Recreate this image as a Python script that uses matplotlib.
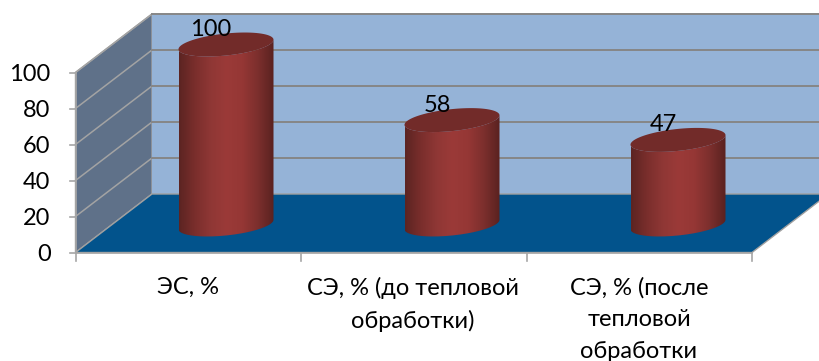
import numpy as np
import matplotlib
matplotlib.use("Agg")
import matplotlib.pyplot as plt
from matplotlib.colors import LinearSegmentedColormap
from matplotlib.patches import Polygon, PathPatch
from matplotlib.path import Path

plt.rcParams["font.family"] = ["Lato", "DejaVu Sans"]

categories = ["ЭС, %", "СЭ, % (до тепловой\nобработки)",
              "СЭ, % (после\nтепловой\nобработки"]
values = [100, 58, 47]
y_ticks = [0, 20, 40, 60, 80, 100]

# projection of the 3D box, in pixels
X0, Y0 = 75.5, 252.5     # front-left corner of the floor
DX, DY = 76.5, -58.5     # depth offset front -> back
PX_PER_UNIT = 1.8
X1 = 752
CENTERS = [226, 452, 678]
R_X, R_Y, SKEW = 47.5, 11.0, 0.1
BASE_Y = 224.5
FONT = 17


def vy(v):
    return Y0 - PX_PER_UNIT * v


def ellipse(cx, cy, t):
    x = cx + R_X * np.cos(t)
    return x, cy - SKEW * (x - cx) + R_Y * np.sin(t)


fig = plt.figure(figsize=(8.19, 3.61), dpi=100)
ax = fig.add_axes([0, 0, 1, 1])
ax.set_xlim(0, 819)
ax.set_ylim(361, 0)
ax.axis("off")

top = vy(100)
# walls and floor
ax.add_patch(Polygon([(X0, top), (X0 + DX, top + DY), (X0 + DX, Y0 + DY), (X0, Y0)],
                     fc="#5f7189", ec="#a0a0a0", lw=1))
ax.add_patch(Polygon([(X0 + DX, top + DY), (830, top + DY), (830, Y0 + DY), (X0 + DX, Y0 + DY)],
                     fc="#95b3d7", ec="none"))
ax.add_patch(Polygon([(X0, Y0), (X0 + DX, Y0 + DY), (X1 + DX, Y0 + DY), (X1, Y0)],
                     fc="#02538c", ec="#a0a0a0", lw=1))

# gridlines, ticks and value axis labels
for v in y_ticks:
    y = vy(v)
    if v > 0:
        ax.plot([X0, X0 + DX], [y, y + DY], color="#a3a3a3", lw=1.1)
        ax.plot([X0 + DX, 830], [y + DY, y + DY], color="#868686", lw=1.4)
    ax.plot([X0 - 6, X0], [y, y], color="#a6a6a6", lw=1.2)
    ax.text(X0 - 25, y + 2, str(v), ha="right", va="center", fontsize=FONT, color="black")
ax.plot([X0, X0], [vy(100), Y0], color="#a6a6a6", lw=1.2)
ax.plot([X0, X1], [Y0 + 0.5, Y0 + 0.5], color="#a6a6a6", lw=1.2)
for x in np.linspace(X0, X1, 4):
    ax.plot([x, x], [Y0, Y0 + 8], color="#a6a6a6", lw=1.2)

# cylinders: shaded side clipped to the outline, flat darker cap
shade = LinearSegmentedColormap.from_list(
    "side", ["#5c2422", "#7a2e2c", "#8f3735", "#9b3a38", "#953735", "#7c2f2d", "#5a2220"])
t_low = np.linspace(0, np.pi, 80)
t_all = np.linspace(0, 2 * np.pi, 160)
for cx, v in zip(CENTERS, values):
    cy = BASE_Y - PX_PER_UNIT * v
    bx, by = ellipse(cx, BASE_Y, t_low)
    tx, ty = ellipse(cx, cy, t_low[::-1])
    outline = Path(np.column_stack([np.r_[bx, tx], np.r_[by, ty]]))
    im = ax.imshow(np.linspace(0, 1, 200)[None, :], cmap=shade, aspect="auto",
                   extent=(cx - R_X, cx + R_X, BASE_Y + 20, cy - 20), zorder=3)
    im.set_clip_path(PathPatch(outline, transform=ax.transData))
    cap_x, cap_y = ellipse(cx, cy, t_all)
    ax.fill(cap_x, cap_y, color="#722b29", lw=0, zorder=4)
    ax.text(cx - 15, cy - 15, str(v), ha="center", va="center",
            fontsize=FONT, color="black", zorder=5)

ax.set_xlim(0, 819)
ax.set_ylim(361, 0)

# category labels
for cx, label in zip([188, 413, 639], categories):
    ax.text(cx, 277, label, ha="center", va="top", fontsize=FONT,
            linespacing=1.62, color="black")

fig.savefig("out.png", dpi=100)
